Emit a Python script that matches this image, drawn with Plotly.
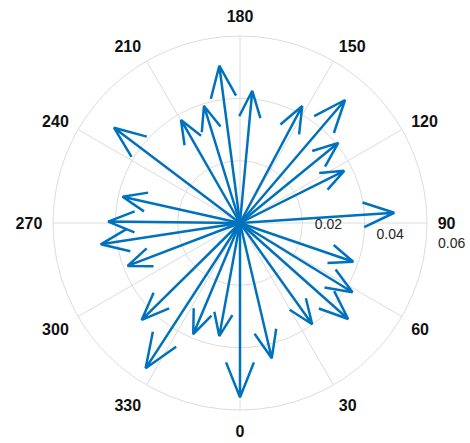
import numpy as np
import plotly.graph_objects as go

# Compass data: direction (degrees) and magnitude of each vector
angles_deg = [187.5, 174.7, 197.1, 209.8, 232.9, 152.0, 139.5, 129.2,
              116.6, 93.8, 71.1, 58.4, 48.4, 35.5, 13.2, 0.0,
              349.6, 337.2, 327.0, 314.6, 290.9, 278.7, 269.4, 257.4]
magnitudes = [0.0509, 0.0426, 0.0393, 0.0381, 0.0507, 0.0425, 0.0519, 0.0407,
              0.0374, 0.0496, 0.0384, 0.0424, 0.0464, 0.0399, 0.0446, 0.0559,
              0.0369, 0.0387, 0.0556, 0.0443, 0.0386, 0.0452, 0.0423, 0.0386]

angle_ticks = list(range(0, 360, 30))
radial_ticks = [0.02, 0.04, 0.06]
radial_labels = ["0.02", "0.04", "0.06"]

# Compass-style arrow: shaft to the tip, head barbs at 0.8 of length, +/-0.08 sideways
head_r = np.hypot(0.8, 0.08)
head_da = np.degrees(np.arctan2(0.08, 0.8))

r_pts, t_pts = [], []
for th, m in zip(angles_deg, magnitudes):
    r_pts += [0, m, head_r * m, m, head_r * m, None]
    t_pts += [th, th, th + head_da, th, th - head_da, None]

fig = go.Figure()
fig.add_trace(go.Scatterpolar(
    r=r_pts, theta=t_pts, mode="lines",
    line=dict(color="#0072BD", width=2.5),
    connectgaps=False, hoverinfo="skip", showlegend=False,
))

grid = "#dcdcdc"
lead = "\u00a0" * 3
fig.update_layout(
    width=470, height=443,
    margin=dict(l=53, r=43, t=36, b=33),
    paper_bgcolor="white",
    showlegend=False,
    polar=dict(
        bgcolor="white",
        angularaxis=dict(
            rotation=270, direction="counterclockwise",
            tickmode="array", tickvals=angle_ticks,
            ticktext=[str(a) for a in angle_ticks],
            tickfont=dict(family="Liberation Sans, Arial", size=16,
                          color="#111111", weight="bold"),
            showline=True, linecolor=grid, linewidth=1,
            gridcolor=grid, gridwidth=1,
            ticks="outside", ticklen=7, tickcolor="rgba(0,0,0,0)",
        ),
        radialaxis=dict(
            range=[0, 0.06], angle=-8.7, side="counterclockwise",
            tickmode="array", tickvals=radial_ticks,
            ticktext=[lead + s for s in radial_labels],
            tickfont=dict(family="Liberation Sans, Arial", size=14, color="#262626"),
            showline=False, gridcolor=grid, gridwidth=1, ticks="",
            tickangle=-8.7,
        ),
    ),
)

fig.write_html("out.html")
